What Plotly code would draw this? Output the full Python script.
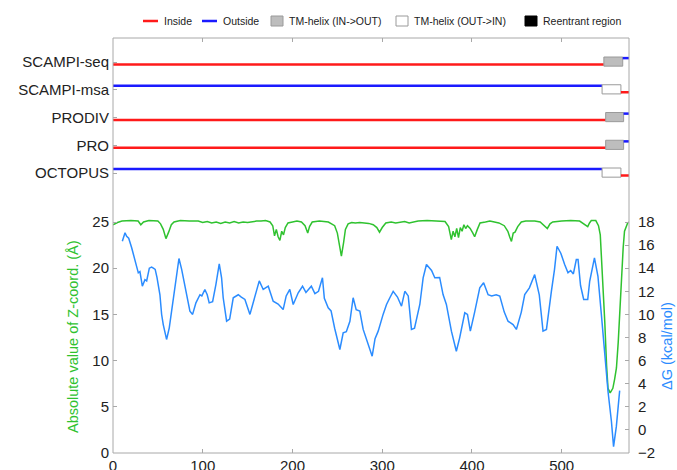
import plotly.graph_objects as go

SEQ_LEN = 575

# ---- topology predictions (segments: start, end, type) ----
methods = ["SCAMPI-seq", "SCAMPI-msa", "PRODIV", "PRO", "OCTOPUS"]
topologies = {
    "SCAMPI-seq": [(0, 547, "in"), (547, 568, "tm_io"), (568, 575, "out")],
    "SCAMPI-msa": [(0, 545, "out"), (545, 566, "tm_oi"), (566, 575, "in")],
    "PRODIV":     [(0, 549, "in"), (549, 569, "tm_io"), (569, 575, "out")],
    "PRO":        [(0, 549, "in"), (549, 569, "tm_io"), (569, 575, "out")],
    "OCTOPUS":    [(0, 545, "out"), (545, 566, "tm_oi"), (566, 575, "in")],
}

# ---- Z-coordinate (absolute value, Angstrom) ----
z_pos = [0, 5, 10, 20, 28, 31, 34, 40, 50, 53, 56, 59, 62, 65, 68, 75, 85, 95, 100, 105,
         110, 115, 120, 125, 130, 135, 140, 145, 150, 155, 160, 165, 170, 175, 178, 180,
         182, 184, 186, 188, 190, 192, 195, 200, 205, 210, 214, 217, 219, 222, 230, 240,
         244, 247, 250, 252, 254.5, 257, 259, 262, 266, 270, 275, 280, 285, 290, 294, 297,
         300, 304, 310, 315, 320, 325, 330, 335, 340, 350, 360, 370, 374, 377, 379, 381,
         383, 385, 387, 389, 391, 393, 395, 398, 401, 403, 406, 409, 415, 420, 425, 430,
         436, 440, 442, 444, 446, 448, 451, 455, 460, 470, 476, 480, 484, 487, 490, 500,
         510, 520, 525, 527, 529, 531, 533, 538, 541, 543, 545, 548, 550, 551.6, 554, 557,
         559, 561, 563, 564, 566, 568.5, 570, 573.5, 575]
z_val = [24.7, 24.95, 25.1, 25.15, 25.1, 24.7, 25.0, 25.15, 25.1, 24.8, 24.2, 23.2, 23.9,
         24.7, 25.0, 25.15, 25.1, 25.1, 24.95, 25.05, 24.9, 25.0, 24.85, 25.0, 24.9, 25.05,
         24.9, 25.0, 24.95, 25.05, 25.1, 25.1, 25.15, 25.0, 24.6, 23.5, 24.2, 23.4, 23.0,
         24.0, 23.6, 24.4, 24.9, 25.0, 25.1, 25.0, 24.6, 23.8, 24.5, 25.0, 25.1, 25.0, 24.8,
         24.6, 23.8, 22.5, 21.3, 22.8, 24.2, 24.8, 24.95, 24.9, 24.95, 24.9, 24.85, 24.7,
         24.4, 23.9, 24.4, 24.9, 25.0, 24.9, 25.0, 25.05, 24.9, 25.0, 25.1, 25.15, 25.1,
         25.05, 24.5, 23.1, 24.0, 23.4, 24.3, 23.3, 24.4, 24.0, 24.7, 24.3, 24.6, 24.3,
         23.8, 23.4, 24.2, 24.9, 25.0, 25.1, 25.0, 24.9, 24.6, 24.0, 23.4, 22.9, 23.8, 23.9,
         24.5, 25.0, 25.1, 25.1, 25.0, 24.7, 24.3, 24.8, 25.0, 25.1, 25.15, 25.1, 24.8,
         24.6, 24.5, 24.9, 25.15, 25.15, 24.6, 23.6, 20.3, 14.2, 9.5, 7.0, 6.5, 7.0, 8.0,
         9.2, 12.0, 13.9, 18.5, 22.2, 24.0, 24.9, 25.0]

# ---- Delta G (kcal/mol) ----
dg_pos = [10.4, 13.4, 15.2, 17.5, 20.8, 24.5, 28.2, 30, 32.7, 35.6, 37.5, 40.5, 43, 45, 47,
          49, 52.3, 54.2, 56, 59.7, 62.7, 65.3, 69, 73.5, 76.5, 80, 85.7, 88.7, 92.4, 96.9,
          99, 102.4, 105, 107.2, 111, 114.7, 118.4, 121, 122.8, 126.6, 130, 134, 139.6,
          143, 147, 152.6, 156, 160, 163, 167.4, 170, 173, 178.5, 184, 189.6, 193, 197,
          200.8, 206.4, 211.2, 215, 221, 225, 229, 233.4, 235.5, 239.8, 243, 247, 252.8,
          256.5, 260, 264, 267.6, 271, 275, 278.8, 284.3, 288.8, 292, 295.5, 301, 304.8,
          308.5, 312.2, 317, 321.5, 325.2, 329, 332.6, 336, 341.9, 345.6, 349.3, 355, 358.6,
          364, 367.8, 371.5, 377.1, 382.6, 386.3, 392, 395, 398.2, 403, 408.7, 413, 418,
          422, 427, 431, 436, 440.2, 445.8, 449.5, 455, 458.8, 464, 469.9, 475, 479.2, 483,
          488.5, 492, 494.8, 499, 503.3, 507, 510, 513, 516.3, 518.2, 521, 524.5, 529,
          531.2, 536.5, 540.4, 544.2, 547.9, 551.6, 555.4, 557.8, 560.9, 564.6]
dg_val = [16.34, 17.07, 16.77, 16.6, 15.77, 14.6, 13.6, 13.7, 12.44, 13.0, 12.9, 14.0, 14.1,
          14.0, 13.9, 13.2, 11.7, 9.99, 9.12, 7.83, 8.84, 10.28, 12.44, 14.84, 13.9, 12.6,
          10.28, 10.0, 11.0, 11.7, 11.6, 12.16, 11.7, 11.0, 11.1, 12.6, 14.38, 13.17, 11.44,
          9.41, 9.6, 11.44, 11.7, 11.5, 11.3, 10.0, 11.0, 12.16, 12.9, 12.16, 12.3, 12.44,
          11.14, 10.9, 10.42, 11.6, 12.16, 10.86, 11.87, 12.44, 11.9, 12.44, 11.8, 12.0,
          13.17, 11.4, 10.57, 10.3, 8.8, 6.96, 8.4, 8.5, 9.4, 11.44, 10.4, 10.28, 8.7, 7.39,
          6.38, 7.9, 8.55, 10.0, 10.86, 11.44, 12.0, 11.5, 10.71, 12.0, 11.6, 8.7, 8.8,
          10.86, 13.17, 14.32, 13.8, 13.17, 13.2, 11.72, 10.86, 8.55, 6.81, 7.97, 10.14,
          10.0, 8.55, 10.2, 12.3, 12.74, 11.7, 11.6, 11.7, 11.58, 10.2, 9.41, 9.12, 8.7,
          10.2, 11.72, 12.3, 13.45, 11.7, 8.55, 8.7, 12.0, 13.9, 15.9, 15.3, 14.32, 13.6,
          13.8, 13.5, 14.75, 14.75, 12.5, 11.29, 11.29, 12.87, 14.9, 13.3, 10.0, 6.53, 3.35,
          0.75, -1.45, 0.3, 3.4]

x_ticks = [0, 100, 200, 300, 400, 500]

# ---- styling ----
RED = "#ff1a1a"
BLUE = "#1a1aff"
GREEN = "#2fc22f"
DGBLUE = "#2b8cff"
FRAME = "#a8a8a8"
FONT = "Liberation Sans, Arial, sans-serif"

W, H = 677, 470
ML, MR, MT, MB = 113, 48, 38, 17
PW, PH = W - ML - MR, H - MT - MB


def px(xp):
    return (xp - ML) / PW


def py(yp):
    return (H - MB - yp) / PH


fig = go.Figure()

# lower panel curves
fig.add_trace(go.Scatter(x=z_pos, y=z_val, mode="lines", line=dict(color=GREEN, width=1.5),
                         xaxis="x", yaxis="y", showlegend=False, hoverinfo="skip"))
fig.add_trace(go.Scatter(x=dg_pos, y=dg_val, mode="lines", line=dict(color=DGBLUE, width=1.5),
                         xaxis="x", yaxis="y2", showlegend=False, hoverinfo="skip"))

# topology panel
IN_OFF, OUT_OFF, BOX_TOP, BOX_BOT = 0.09, -0.14, -0.18, 0.15
for i, m in enumerate(methods):
    row = i + 1
    for (s, e, t) in topologies[m]:
        if t == "in":
            fig.add_trace(go.Scatter(x=[s, e], y=[row + IN_OFF] * 2, mode="lines",
                                     line=dict(color=RED, width=2.5), xaxis="x2", yaxis="y3",
                                     showlegend=False, hoverinfo="skip"))
        elif t == "out":
            fig.add_trace(go.Scatter(x=[s, e], y=[row + OUT_OFF] * 2, mode="lines",
                                     line=dict(color=BLUE, width=2.5), xaxis="x2", yaxis="y3",
                                     showlegend=False, hoverinfo="skip"))
        else:
            fill = "#bdbdbd" if t == "tm_io" else "#ffffff"
            fig.add_trace(go.Scatter(x=[s, e, e, s, s],
                                     y=[row + BOX_TOP, row + BOX_TOP, row + BOX_BOT, row + BOX_BOT, row + BOX_TOP],
                                     mode="lines", fill="toself", fillcolor=fill,
                                     line=dict(color="#9a9a9a", width=1), xaxis="x2", yaxis="y3",
                                     showlegend=False, hoverinfo="skip"))

lower_top = py(200)
upper_bot = py(195)
row_px = 27.75
t_val = 1 - (62 - MT) / row_px
b_val = t_val + (195 - MT) / row_px

axis_common = dict(showgrid=False, zeroline=False, showline=False, ticks="inside",
                   ticklen=4, tickwidth=1, tickcolor=FRAME, automargin=False,
                   tickfont=dict(family=FONT, size=15, color="#222222"))

fig.update_layout(
    width=W, height=H,
    margin=dict(l=ML, r=MR, t=MT, b=MB, pad=0, autoexpand=False),
    paper_bgcolor="white", plot_bgcolor="white",
    font=dict(family=FONT),
    xaxis=dict(domain=[0, 1], range=[0, SEQ_LEN], anchor="y", tickvals=x_ticks,
               ticklabelstandoff=2, **axis_common),
    yaxis=dict(domain=[0, lower_top], range=[0, (H - MB - 200) / 9.24], anchor="x",
               tickvals=[0, 5, 10, 15, 20, 25], ticklabelstandoff=3, **axis_common),
    yaxis2=dict(overlaying="y", side="right", anchor="x", range=[-2, -2 + (H - MB - 200) / 11.55],
                tickvals=list(range(-2, 19, 2)), ticklabelstandoff=8, **axis_common),
    xaxis2=dict(domain=[0, 1], range=[0, SEQ_LEN], anchor="y3", side="top", tickvals=x_ticks,
                showticklabels=False, **axis_common),
    yaxis3=dict(domain=[upper_bot, 1], range=[b_val, t_val], anchor="x2",
                tickvals=[1, 2, 3, 4, 5], ticktext=methods, ticklabelstandoff=3, **axis_common),
)

# frame
fig.add_shape(type="rect", xref="paper", yref="paper", x0=0, x1=1, y0=0, y1=1,
              line=dict(color=FRAME, width=1), layer="above")

# axis titles
fig.add_annotation(x=px(73), y=py(337), xref="paper", yref="paper", text="Absolute value of Z-coord. (Å)",
                   textangle=-90, showarrow=False, xanchor="center", yanchor="middle",
                   font=dict(family=FONT, size=14.5, color=GREEN))
fig.add_annotation(x=px(667), y=py(346), xref="paper", yref="paper", text="ΔG (kcal/mol)",
                   textangle=-90, showarrow=False, xanchor="center", yanchor="middle",
                   font=dict(family=FONT, size=14.5, color=DGBLUE))

# legend (manual)
LY = 21
LF = dict(family=FONT, size=10.5, color="#222222")
legend_items = [
    ("line", RED, 143, "Inside"),
    ("line", BLUE, 202, "Outside"),
    ("box", "#bdbdbd", 271, "TM-helix (IN->OUT)"),
    ("box", "#ffffff", 396, "TM-helix (OUT->IN)"),
    ("box", "#000000", 525, "Reentrant region"),
]
for kind, col, x0, label in legend_items:
    if kind == "line":
        fig.add_shape(type="line", xref="paper", yref="paper", x0=px(x0), x1=px(x0 + 15),
                      y0=py(LY), y1=py(LY), line=dict(color=col, width=2.5))
        tx = x0 + 19
    else:
        fig.add_shape(type="rect", xref="paper", yref="paper", x0=px(x0), x1=px(x0 + 12),
                      y0=py(LY + 5), y1=py(LY - 5), fillcolor=col,
                      line=dict(color="#9a9a9a" if col != "#000000" else "#000000", width=1))
        tx = x0 + 16
    fig.add_annotation(x=px(tx), y=py(LY), xref="paper", yref="paper", text=label,
                       xanchor="left", yanchor="middle", showarrow=False, font=LF)

fig.write_html("out.html")
